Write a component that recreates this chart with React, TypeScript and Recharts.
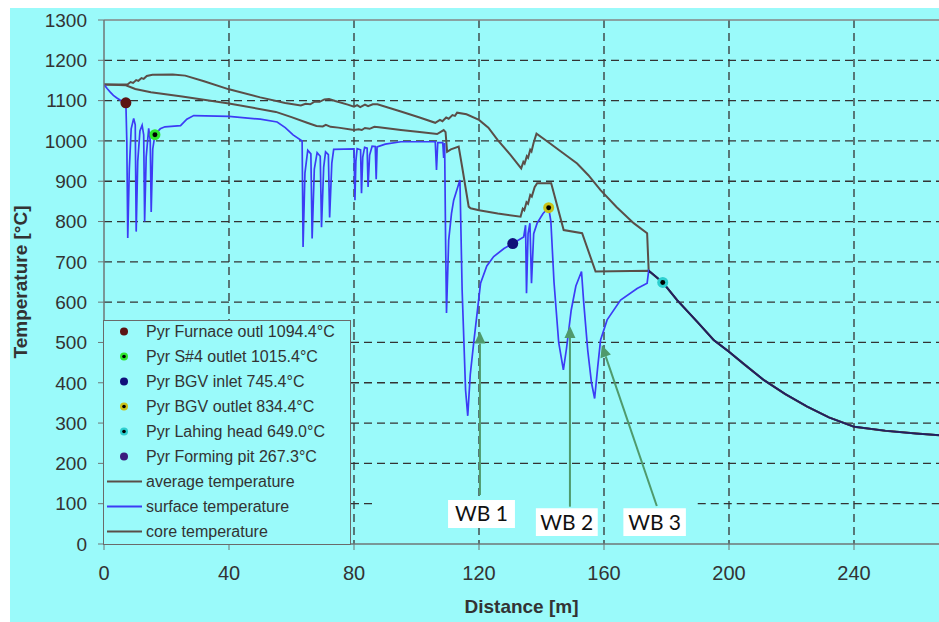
import {
  ComposedChart,
  Line,
  Scatter,
  XAxis,
  YAxis,
  CartesianGrid,
  ReferenceLine,
  ReferenceArea,
  Legend,
} from 'recharts';

const FONT = 'Arial, "Liberation Sans", Helvetica, sans-serif';
const BG = '#9afafa';
const GRAY = '#5a4e48';
const BLUE = '#3c3cf5';
const NAVY = '#1e1e62';
const ARROW = '#4f9a6c';

const DIST_TICKS = [0, 40, 80, 120, 160, 200, 240];
const TEMP_TICKS = [0, 100, 200, 300, 400, 500, 600, 700, 800, 900, 1000, 1100, 1200, 1300];

// [distance m, temperature °C]
const CORE_TEMP: [number, number][] = [
  [0, 1140], [7.5, 1140], [8.5, 1146], [9.3, 1144], [10.3, 1151], [11, 1149], [12, 1156], [12.7, 1154],
  [13.7, 1161], [15.5, 1164], [22, 1165], [26, 1162], [32, 1148], [40, 1128], [50, 1108], [58, 1094],
  [63, 1088], [64.5, 1092], [66, 1091], [67.5, 1098], [69, 1097], [70.5, 1103], [72, 1104], [74, 1099],
  [78, 1090], [80, 1085], [81, 1089], [82, 1084], [83.5, 1090], [84.5, 1086], [86, 1091], [87.5, 1091],
  [95, 1073], [101, 1058], [106, 1045], [107.5, 1052], [108.3, 1049], [109.5, 1058], [110.3, 1055],
  [111.5, 1064], [112.3, 1062], [113, 1070], [116, 1066], [120, 1052], [123, 1033], [126, 1002],
  [130, 966], [133.5, 932], [134.2, 948], [134.6, 944], [135.3, 962], [135.7, 958], [136.4, 978],
  [136.8, 974], [137.5, 996], [138.4, 1018], [142, 998], [146, 975], [151.4, 944], [155, 915],
  [158.9, 878], [164, 836], [169.5, 796], [173.8, 771], [174.3, 678],
];

const AVG_TEMP: [number, number][] = [
  [0, 1140], [7, 1138], [10, 1129], [15, 1121], [25, 1110], [40, 1093], [55, 1072], [60, 1059],
  [65, 1045], [68, 1037], [70, 1036], [71, 1040], [72.5, 1035], [75, 1033], [80, 1027], [81.5, 1029],
  [82.5, 1027], [83.5, 1032], [85, 1030], [86.5, 1035], [88, 1034], [95, 1027], [101, 1022],
  [106.6, 1017], [108.7, 1027], [109.3, 1022], [109.8, 973], [111, 979], [113.5, 986], [114.6, 936],
  [116.7, 837], [117.3, 833], [120, 828], [126, 820], [133.3, 812], [134, 832], [134.5, 828],
  [135.2, 848], [135.7, 844], [136.4, 866], [136.9, 862], [137.8, 885], [138.6, 895], [143.1, 895],
  [147.1, 779], [153, 771], [157.3, 676], [174.3, 678],
];

const SURFACE_TEMP: [number, number][] = [
  [0, 1140], [1, 1130], [2, 1121], [3, 1113], [4, 1107], [5, 1102], [6, 1098], [7, 1094.4],
  [7.3, 1000], [7.6, 759], [8.1, 930], [8.7, 1030], [9.5, 1056], [10, 1040], [10.3, 775], [10.8, 950],
  [11.5, 1025], [12.2, 1039], [12.7, 1015], [13, 800], [13.5, 960], [14.3, 1031], [14.8, 1000],
  [15.1, 824], [15.6, 980], [16.3, 1015.4], [18, 1030], [19.5, 1035], [24.5, 1038], [26.5, 1054],
  [28.7, 1063], [40, 1061], [50, 1054], [55.4, 1047], [58, 1033], [60.5, 1015], [63.4, 1000],
  [63.7, 737], [64.3, 920], [65.2, 977], [66.2, 968], [66.6, 758], [67.3, 930], [68.2, 971],
  [69.2, 962], [69.6, 786], [70.3, 935], [70.9, 973], [71.8, 966], [72.2, 810], [72.9, 945],
  [73.5, 979], [80, 980], [80.3, 853], [80.6, 950], [81, 981], [82.1, 978], [82.4, 870], [82.8, 960],
  [83.4, 984], [84.2, 982], [84.5, 886], [85, 965], [85.8, 987], [86.8, 986], [87.1, 905], [87.4, 985],
  [90, 992], [95, 998], [106, 998], [106.4, 928], [106.8, 996], [108.4, 996], [108.7, 958], [109, 995],
  [109.3, 760], [109.6, 573], [110.3, 754], [111.2, 820], [111.9, 853], [113.9, 903], [114.6, 630],
  [115.7, 382], [116.4, 318], [117.2, 420], [118.3, 499], [120.5, 647], [122.5, 690], [124.7, 713],
  [128, 733], [130.8, 745.4], [134.3, 762], [134.9, 791], [135.2, 622], [135.7, 770], [136.3, 796],
  [136.8, 647], [137.5, 770], [138.6, 796], [140.5, 820], [142.3, 834.4], [143, 800], [144, 650],
  [145.5, 500], [147, 432], [148, 485], [149.5, 580], [151, 640], [152.8, 676], [153.5, 600],
  [154.8, 480], [156, 400], [157, 361], [158, 440], [158.9, 506], [161, 556], [165.3, 605],
  [170.6, 634], [173.8, 647], [174.3, 678],
];

// after the BGV all three temperatures coincide
const COOLING_TAIL: [number, number][] = [
  [178.8, 649], [183.4, 605], [190, 550], [195.1, 506], [200, 477], [205, 445], [211.1, 407],
  [218, 372], [225, 341], [232, 314], [240, 291], [250, 281], [260, 274], [267.3, 270],
];

const PYRO_NAMES = ['Pyr Furnace outl', 'Pyr S#4 outlet', 'Pyr BGV inlet', 'Pyr BGV outlet', 'Pyr Lahing head', 'Pyr Forming pit'];
const PYRO_DIST = [7, 16.3, 130.8, 142.3, 178.8, 275];
const PYRO_TEMP = [1094.4, 1015.4, 745.4, 834.4, 649.0, 267.3];

const LINE_NAMES = ['average temperature', 'surface temperature', 'core temperature'];
const WB_NAMES = ['WB 1', 'WB 2', 'WB 3'];

// styling / annotation layout
const PYRO_STYLE = [
  { fill: '#5c1414', core: false },
  { fill: '#2ee62e', core: true },
  { fill: '#10107a', core: false },
  { fill: '#c9c21a', core: true },
  { fill: '#2ccfcf', core: true },
  { fill: '#3b1c7e', core: false },
];
const LINE_COLORS = [GRAY, BLUE, GRAY];
const WB_BOX = [
  { x1: 110.1, x2: 131.5, y1: 39.7, y2: 109.2 },
  { x1: 138.2, x2: 158.0, y1: 19.8, y2: 88.6 },
  { x1: 166.2, x2: 186.2, y1: 19.8, y2: 88.6 },
];
const WB_ARROW = [
  [{ x: 120.3, y: 121.6 }, { x: 120.3, y: 527 }],
  [{ x: 149.1, y: 92.6 }, { x: 149.1, y: 541 }],
  [{ x: 176.9, y: 94.3 }, { x: 159.3, y: 493.7 }],
];

const toRows = (pts: [number, number][]) => pts.map(([d, t]) => ({ d, t }));
const coreData = toRows([...CORE_TEMP, ...COOLING_TAIL]);
const avgData = toRows([...AVG_TEMP, ...COOLING_TAIL]);
const surfaceData = toRows([...SURFACE_TEMP, ...COOLING_TAIL]);
const tailStart = COOLING_TAIL[0][0] - 4.5;
const tailOffset = tailStart / COOLING_TAIL[COOLING_TAIL.length - 1][0];

const pyroDot = (i: number, r: number) => (p: any) => (
  <g>
    <circle cx={p.cx} cy={p.cy} r={r} fill={PYRO_STYLE[i].fill} />
    {PYRO_STYLE[i].core && <circle cx={p.cx} cy={p.cy} r={r * 0.45} fill="#000" />}
  </g>
);

const Arrow = (p: any) => {
  const { x1, y1, x2, y2 } = p;
  const len = Math.hypot(x2 - x1, y2 - y1) || 1;
  const ux = (x2 - x1) / len;
  const uy = (y2 - y1) / len;
  const bx = x2 - ux * 12;
  const by = y2 - uy * 12;
  return (
    <g>
      <line x1={x1} y1={y1} x2={bx} y2={by} stroke={ARROW} strokeWidth={2} />
      <polygon points={`${x2},${y2} ${bx - uy * 5.5},${by + ux * 5.5} ${bx + uy * 5.5},${by - ux * 5.5}`} fill={ARROW} />
    </g>
  );
};

const LegendBox = () => (
  <div
    style={{
      width: 248,
      height: 225,
      boxSizing: 'border-box',
      border: '1.5px solid #6a6a6a',
      background: BG,
      fontFamily: FONT,
      fontSize: 16,
      color: '#333',
    }}
  >
    <div style={{ marginTop: -2 }}>
      {PYRO_NAMES.map((name, i) => (
        <div key={name} style={{ height: 25, display: 'flex', alignItems: 'center' }}>
          <svg width={42} height={25}>
            <circle cx={20} cy={12.5} r={4} fill={PYRO_STYLE[i].fill} />
            {PYRO_STYLE[i].core && <circle cx={20} cy={12.5} r={1.8} fill="#000" />}
          </svg>
          <span>{`${name} ${PYRO_TEMP[i].toFixed(1)}°C`}</span>
        </div>
      ))}
      {LINE_NAMES.map((name, i) => (
        <div key={name} style={{ height: 25, display: 'flex', alignItems: 'center' }}>
          <svg width={42} height={25}>
            <line x1={3} y1={12.5} x2={38} y2={12.5} stroke={LINE_COLORS[i]} strokeWidth={1.8} />
          </svg>
          <span>{name}</span>
        </div>
      ))}
    </div>
  </div>
);

export default function App() {
  const tick = { fill: '#333', fontSize: 19, fontFamily: FONT };
  return (
    <div style={{ position: 'absolute', left: 0, top: 0, width: 939, height: 622, background: '#fff', overflow: 'hidden', fontFamily: FONT }}>
      <div style={{ position: 'absolute', left: 10, top: 8, right: 0, bottom: 0, background: BG }} />
      <div style={{ position: 'absolute', left: 0, top: 0 }}>
        <ComposedChart width={939} height={622} margin={{ top: 20, right: 0, bottom: 38, left: 44 }}>
          <defs>
            <linearGradient id="surfaceStroke" x1="0" y1="0" x2="1" y2="0">
              <stop offset={tailOffset} stopColor={BLUE} />
              <stop offset={tailOffset} stopColor={NAVY} />
            </linearGradient>
          </defs>
          <CartesianGrid
            stroke="#333"
            strokeWidth={1.3}
            strokeDasharray="8 5"
            verticalValues={DIST_TICKS.slice(1)}
            horizontalValues={TEMP_TICKS.filter((v) => v > 100 && v < 1300)}
          />
          <XAxis
            type="number"
            dataKey="d"
            domain={[0, 267.2]}
            ticks={DIST_TICKS}
            allowDataOverflow
            height={40}
            stroke="#6e7676"
            axisLine={{ strokeWidth: 1.5 }}
            tickSize={6}
            tickMargin={16}
            tick={{ ...tick, fontSize: 20 }}
            label={{ value: 'Distance [m]', position: 'bottom', offset: 16, fill: '#333', fontSize: 19, fontWeight: 'bold', fontFamily: FONT }}
          />
          <YAxis
            type="number"
            dataKey="t"
            domain={[0, 1300]}
            ticks={TEMP_TICKS}
            allowDataOverflow
            width={60}
            stroke="#6e7676"
            axisLine={{ strokeWidth: 1.5 }}
            tickSize={6}
            tickMargin={11}
            tick={tick}
            label={{
              content: (p: any) => {
                const vb = p.viewBox || { x: 44, y: 20, height: 524 };
                const cx = vb.x - 24;
                const cy = vb.y + vb.height / 2;
                return (
                  <text x={cx} y={cy} transform={`rotate(-90, ${cx}, ${cy})`} textAnchor="middle" dominantBaseline="central" fill="#333" fontSize={19} fontWeight="bold" fontFamily={FONT}>
                    Temperature [°C]
                  </text>
                );
              },
            }}
          />
          <ReferenceLine y={1300} stroke="#858585" strokeWidth={1.5} />
          <ReferenceLine segment={[{ x: 0, y: 100 }, { x: 86.7, y: 100 }]} stroke="#333" strokeWidth={1.3} strokeDasharray="8 5" />
          <ReferenceLine segment={[{ x: 190, y: 100 }, { x: 267.2, y: 100 }]} stroke="#333" strokeWidth={1.3} strokeDasharray="8 5" />

          <Line data={coreData} dataKey="t" name={LINE_NAMES[2]} type="linear" dot={false} stroke={GRAY} strokeWidth={2} isAnimationActive={false} />
          <Line data={avgData} dataKey="t" name={LINE_NAMES[0]} type="linear" dot={false} stroke={GRAY} strokeWidth={2} isAnimationActive={false} />
          <Line data={surfaceData} dataKey="t" name={LINE_NAMES[1]} type="linear" dot={false} stroke="url(#surfaceStroke)" strokeWidth={1.7} isAnimationActive={false} />

          {PYRO_NAMES.map((name, i) => (
            <Scatter
              key={name}
              name={name}
              data={[{ d: PYRO_DIST[i], t: PYRO_TEMP[i] }]}
              dataKey="t"
              shape={pyroDot(i, 5.5)}
              isAnimationActive={false}
            />
          ))}

          {WB_ARROW.map((seg, i) => (
            <ReferenceLine key={`a${i}`} segment={seg} shape={Arrow} />
          ))}
          {WB_NAMES.map((name, i) => (
            <ReferenceArea
              key={name}
              {...WB_BOX[i]}
              fill="#fff"
              fillOpacity={1}
              stroke="none"
              label={{ value: name, position: 'center', fill: '#111', fontSize: 21, fontFamily: 'Lato, "Open Sans", sans-serif' }}
            />
          ))}

          <Legend
            layout="vertical"
            align="center"
            verticalAlign="middle"
            content={LegendBox}
            wrapperStyle={{ left: 103, top: 320, width: 248, height: 225 }}
          />
        </ComposedChart>
      </div>
    </div>
  );
}
